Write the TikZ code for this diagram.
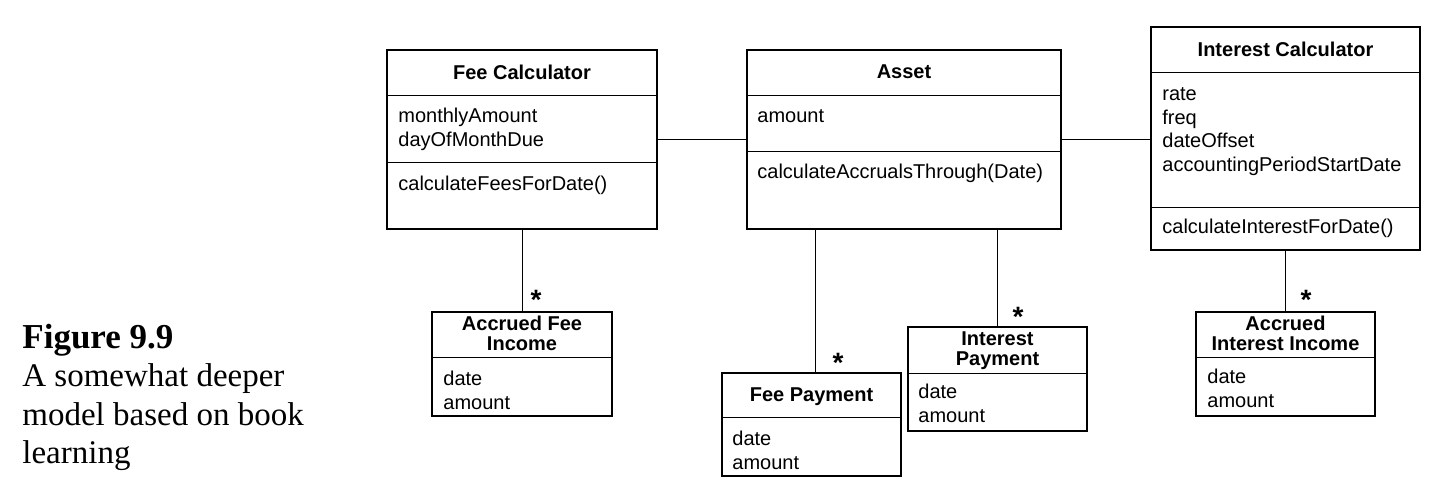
\documentclass[tikz,border=0pt]{standalone}
\usepackage{fontspec}
\setmainfont{Liberation Serif}
\setsansfont{Liberation Sans}
\usetikzlibrary{positioning,fit}

\newcommand{\attrfont}{\fontsize{10}{11.8}\selectfont}
\newcommand{\titlefont}{\fontsize{10}{10}\selectfont\bfseries}

\tikzset{
  classbox/.style={draw,line width=0.8pt,inner sep=0pt},
  classname/.style={anchor=north,align=center,inner sep=0pt,font=\titlefont},
  members/.style={anchor=north west,align=left,inner sep=0pt,font=\attrfont},
  mult/.style={anchor=base,inner sep=0pt,font=\fontsize{14}{14}\selectfont\bfseries},
  assoc/.style={line width=0.5pt},
}

\begin{document}
\begin{tikzpicture}[x=0.5pt,y=-0.5pt]
\sffamily
\useasboundingbox (0,0) rectangle (1447,503);

% class boxes
\node[classbox,fit={(387,50) (657,229)}] (feecalc) {};
\node[classbox,fit={(747,50) (1061,229)}] (asset) {};
\node[classbox,fit={(1151,27) (1420,250)}] (intcalc) {};
\node[classbox,fit={(432,312) (612,416)}] (feeinc) {};
\node[classbox,fit={(722,373) (901,476)}] (feepay) {};
\node[classbox,fit={(908,327) (1087,431)}] (intpay) {};
\node[classbox,fit={(1196,312) (1375,416)}] (intinc) {};

% compartment lines
\foreach \cls/\y in {feecalc/95,feecalc/162,asset/95,asset/151,intcalc/72,intcalc/207,
                     feeinc/357,feepay/417,intpay/373,intinc/357}
  \draw[assoc] (\cls.west |- 0,\y) -- (\cls.east |- 0,\y);

% names
\node[classname] (feecalc-name) at (522,64.2) {Fee Calculator};
\node[classname] (asset-name) at (904,64.2) {Asset};
\node[classname] (intcalc-name) at (1285.5,41.2) {Interest Calculator};
\node[classname] (feeinc-name) at (522,315.7) {Accrued Fee\\Income};
\node[classname] (feepay-name) at (811.5,387.2) {Fee Payment};
\node[classname] (intpay-name) at (997.5,331.7) {Interest\\Payment};
\node[classname] (intinc-name) at (1285.5,315.7) {Accrued\\Interest Income};

% attributes and operations
\node[members] (feecalc-attr) at (398,105.5) {\strut monthlyAmount\\dayOfMonthDue};
\node[members] (feecalc-ops) at (398,173.5) {\strut calculateFeesForDate()};
\node[members] (asset-attr) at (757,105.5) {\strut amount};
\node[members] (asset-ops) at (757,161.5) {\strut calculateAccrualsThrough(Date)};
\node[members] (intcalc-attr) at (1162,83.5) {\strut rate\\freq\\dateOffset\\accountingPeriodStartDate};
\node[members] (intcalc-ops) at (1162,216.5) {\strut calculateInterestForDate()};
\node[members] (feeinc-attr) at (443,368.5) {\strut date\\amount};
\node[members] (feepay-attr) at (732,428.5) {\strut date\\amount};
\node[members] (intpay-attr) at (918,381.5) {\strut date\\amount};
\node[members] (intinc-attr) at (1207,366.5) {\strut date\\amount};

% associations
\draw[assoc] (feecalc.east) -- (asset.west);
\draw[assoc] (asset.east) -- (asset.east -| intcalc.west);
\draw[assoc] (feecalc.south) -- (feeinc.north);
\draw[assoc] ([xshift=1.75pt]feepay.north) -- ([xshift=1.75pt]feepay.north |- asset.south);
\draw[assoc] (intpay.north) -- (intpay.north |- asset.south);
\draw[assoc] (intcalc.south) -- (intinc.north);

% multiplicities
\node[mult] (feeinc-mult) at (536,309) {*};
\node[mult] (feepay-mult) at (838,372) {*};
\node[mult] (intpay-mult) at (1018,326) {*};
\node[mult] (intinc-mult) at (1306,309) {*};

% caption
\node[anchor=north west,align=left,inner sep=0pt,font=\rmfamily\fontsize{16.5}{19.2}\selectfont]
  (caption) at (22,321) {\strut{\fontsize{17.5}{19.2}\selectfont\bfseries Figure 9.9}\\A somewhat deeper\\model based on book\\learning};
\end{tikzpicture}
\end{document}
